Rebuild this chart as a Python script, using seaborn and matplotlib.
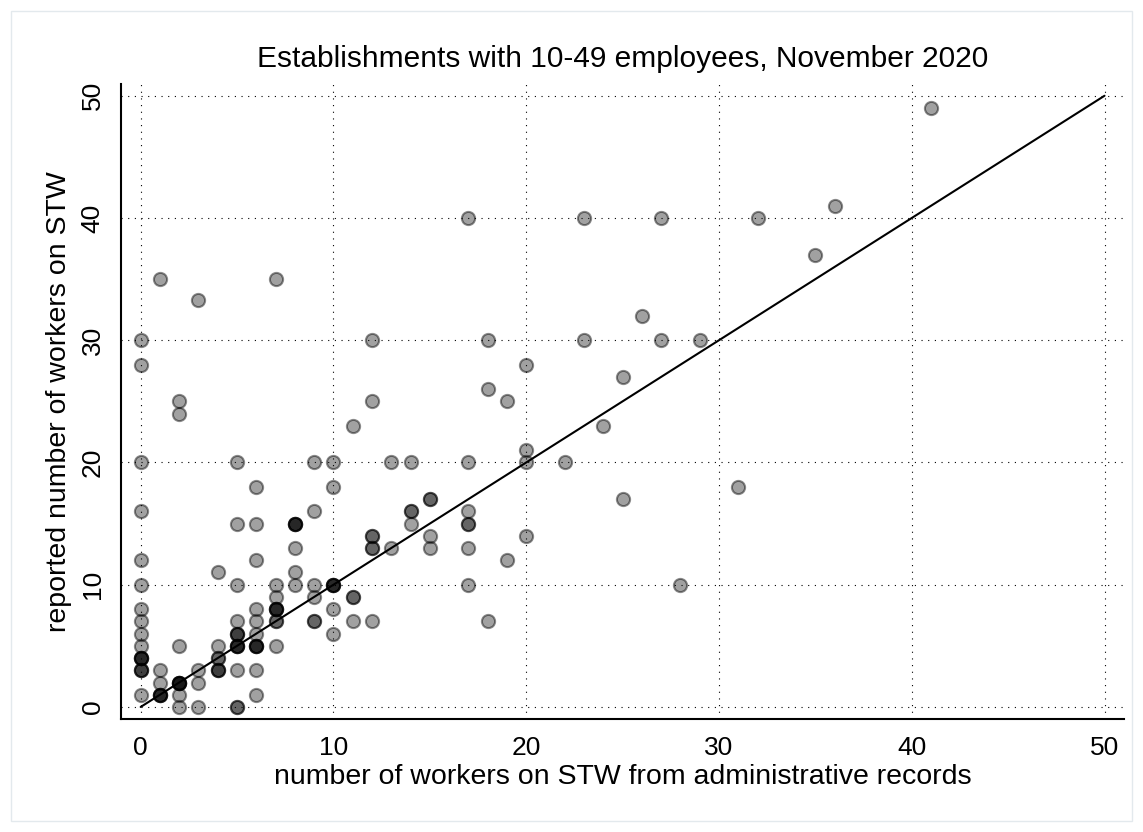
import numpy as np
import pandas as pd
import matplotlib
matplotlib.use("Agg")
import matplotlib.pyplot as plt
from matplotlib.patches import Rectangle
import seaborn as sns

# ---- data ----
# number of workers on STW from administrative records
admin_workers = [0, 0, 0, 0, 0, 0, 0, 0, 0, 0, 0, 0, 0,
                 1, 1, 1, 1,
                 2, 2, 2, 2, 2, 2,
                 3, 3, 3, 3,
                 4, 4, 4, 4,
                 5, 5, 5, 5, 5, 5, 5, 5,
                 6, 6, 6, 6, 6, 6, 6, 6, 6,
                 7, 7, 7, 7, 7, 7,
                 8, 8, 8, 8,
                 9, 9, 9, 9, 9,
                 10, 10, 10, 10, 10,
                 11, 11, 11,
                 12, 12, 12, 12, 12,
                 13, 13,
                 14, 14, 14,
                 15, 15, 15,
                 17, 17, 17, 17, 17, 17,
                 18, 18, 18,
                 19, 19,
                 20, 20, 20, 20,
                 22, 23, 23, 24, 25, 25, 26, 27, 27, 28, 29, 31, 32, 35, 36, 41]
# reported number of workers on STW
reported_workers = [30, 28, 20, 16, 12, 10, 8, 7, 6, 5, 4, 3, 1,
                    35, 3, 2, 1,
                    25, 24, 5, 2, 1, 0,
                    33.3, 3, 2, 0,
                    11, 5, 4, 3,
                    20, 15, 10, 7, 6, 5, 3, 0,
                    18, 15, 12, 8, 7, 6, 5, 3, 1,
                    35, 10, 9, 8, 7, 5,
                    15, 13, 11, 10,
                    20, 16, 10, 9, 7,
                    20, 18, 10, 8, 6,
                    23, 9, 7,
                    30, 25, 14, 13, 7,
                    20, 13,
                    20, 16, 15,
                    17, 14, 13,
                    40, 20, 16, 15, 13, 10,
                    30, 26, 7,
                    25, 12,
                    28, 21, 20, 14,
                    20, 40, 30, 23, 27, 17, 32, 40, 30, 10, 30, 18, 40, 37, 41, 49]
# number of establishments sharing the same pair of values (overlapping markers)
n_establishments = [1, 1, 1, 1, 1, 1, 1, 1, 1, 1, 4, 3, 1,
                    1, 1, 1, 4,
                    1, 1, 1, 5, 1, 1,
                    1, 1, 1, 1,
                    1, 1, 2, 3,
                    1, 1, 1, 1, 3, 4, 1, 2,
                    1, 1, 1, 1, 1, 1, 4, 1, 1,
                    1, 1, 1, 4, 2, 1,
                    4, 1, 1, 1,
                    1, 1, 1, 1, 2,
                    1, 1, 4, 1, 1,
                    1, 2, 1,
                    1, 1, 2, 2, 1,
                    1, 1,
                    1, 2, 1,
                    2, 1, 1,
                    1, 1, 1, 2, 1, 1,
                    1, 1, 1,
                    1, 1,
                    1, 1, 1, 1,
                    1, 1, 1, 1, 1, 1, 1, 1, 1, 1, 1, 1, 1, 1, 1, 1]

diag_line = [0, 50]
axis_ticks = [0, 10, 20, 30, 40, 50]

title = "Establishments with 10-49 employees, November 2020"
x_label = "number of workers on STW from administrative records"
y_label = "reported number of workers on STW"

# ---- build table ----
df = pd.DataFrame({
    "admin": np.repeat(admin_workers, n_establishments),
    "reported": np.repeat(reported_workers, n_establishments),
})

sns.set_style("white")
plt.rcParams["font.family"] = ["Liberation Sans", "DejaVu Sans"]
plt.rcParams["text.color"] = "black"
plt.rcParams["axes.labelcolor"] = "black"

fig = plt.figure(figsize=(11.43, 8.32), dpi=100)
ax = fig.add_axes([0.1062, 0.1356, 0.877, 0.764])

ax.set_xlim(-1, 51)
ax.set_ylim(-1, 51)
ax.set_xticks(axis_ticks)
ax.set_yticks(axis_ticks)
ax.grid(True, linestyle=(0, (1, 5)), color="black", linewidth=0.8)
ax.set_axisbelow(True)

sns.scatterplot(data=df, x="admin", y="reported", ax=ax, s=90,
                color="black", linewidth=1.5, zorder=3, legend=False)
coll = ax.collections[0]
coll.set_facecolor((0, 0, 0, 0.37))
coll.set_edgecolor((0, 0, 0, 0.45))

sns.lineplot(x=diag_line, y=diag_line, ax=ax, color="black", linewidth=1.5,
             zorder=4)

for side in ["top", "right"]:
    ax.spines[side].set_visible(False)
for side in ["left", "bottom"]:
    ax.spines[side].set_linewidth(1.5)
    ax.spines[side].set_color("black")

ax.tick_params(axis="both", direction="out", length=8, width=1.3,
               labelsize=19, colors="black", pad=4)
for lab in ax.get_yticklabels():
    lab.set_rotation(90)
    lab.set_va("center")

ax.set_xlabel(x_label, fontsize=20.5, labelpad=3, color="black")
ax.set_ylabel(y_label, fontsize=20.5, labelpad=6, color="black")
ax.set_title(title, fontsize=21.5, pad=12, color="black")

fig.patches.append(Rectangle((11 / 1143, 11 / 832), 1121 / 1143, 810 / 832,
                             transform=fig.transFigure, fill=False,
                             edgecolor="#e3e9ed", linewidth=1.0))

fig.savefig("out.png", dpi=100)
